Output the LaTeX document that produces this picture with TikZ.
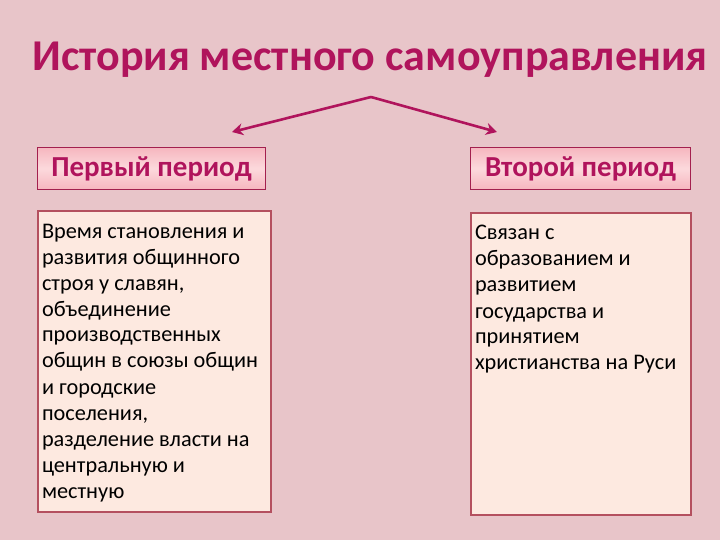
\documentclass[tikz,border=0pt]{standalone}
\usepackage{fontspec}
\setmainfont{Carlito}
\usetikzlibrary{arrows.meta,positioning,calc}
\definecolor{slidebg}{HTML}{E8C5C9}
\definecolor{slidered}{HTML}{B0145C}
\definecolor{headedge}{HTML}{A3204E}
\definecolor{headpink}{HTML}{F6B6BF}
\definecolor{headlight}{HTML}{FCD9DC}
\definecolor{bodyedge}{HTML}{B4505F}
\definecolor{bodyfill}{HTML}{FDE9E0}
\newcommand{\bodytext}[3]{\parbox[t][#2][t]{#1}{\raggedright\rule{0pt}{21pt}#3}}
\tikzset{
  titletext/.style={
    text=slidered,
    font=\bfseries\fontsize{44}{50}\selectfont,
    inner sep=0pt
  },
  headbox/.style={
    draw=headedge,
    top color=headpink,
    bottom color=headpink,
    middle color=headlight,
    line width=1pt,
    minimum height=42pt,
    text=slidered,
    font=\bfseries\fontsize{29}{32}\selectfont,
    anchor=north west
  },
  bodybox/.style={
    draw=bodyedge,
    fill=bodyfill,
    line width=2pt,
    inner xsep=4pt,
    inner ysep=6pt,
    font=\fontsize{22.3}{26}\selectfont,
    anchor=north west
  },
  arrow/.style={
    -{Stealth[length=11pt,width=12pt]},
    line width=2.6pt,
    draw=slidered
  }
}
\begin{document}
\begin{tikzpicture}[x=1pt,y=-1pt]
\fill[slidebg] (0,0) rectangle (720,540);
\node[titletext] (title) at (370,60) {История местного самоуправления};
\node[headbox, minimum width=228pt] (first) at (37,147) {Первый период};
\node[headbox, minimum width=220pt] (second) at (470,147) {Второй период};
\node[bodybox] (firstbody) at (37,210) {\bodytext{225pt}{289pt}{Время становления и\\ развития общинного\\ строя у славян,\\ объединение\\ производственных\\ общин в союзы общин\\ и городские\\ поселения,\\ разделение власти на\\ центральную и\\ местную}};
\node[bodybox] (secondbody) at (470,212) {\bodytext{212pt}{290pt}{Связан с\\ образованием и\\ развитием\\ государства и\\ принятием\\ христианства на Руси}};
\coordinate (split) at (371,97);
\coordinate (toleft) at (232,132);
\coordinate (toright) at (497,132);
\draw[arrow] (split) -- (toleft);
\draw[arrow] (split) -- (toright);
\end{tikzpicture}
\end{document}
